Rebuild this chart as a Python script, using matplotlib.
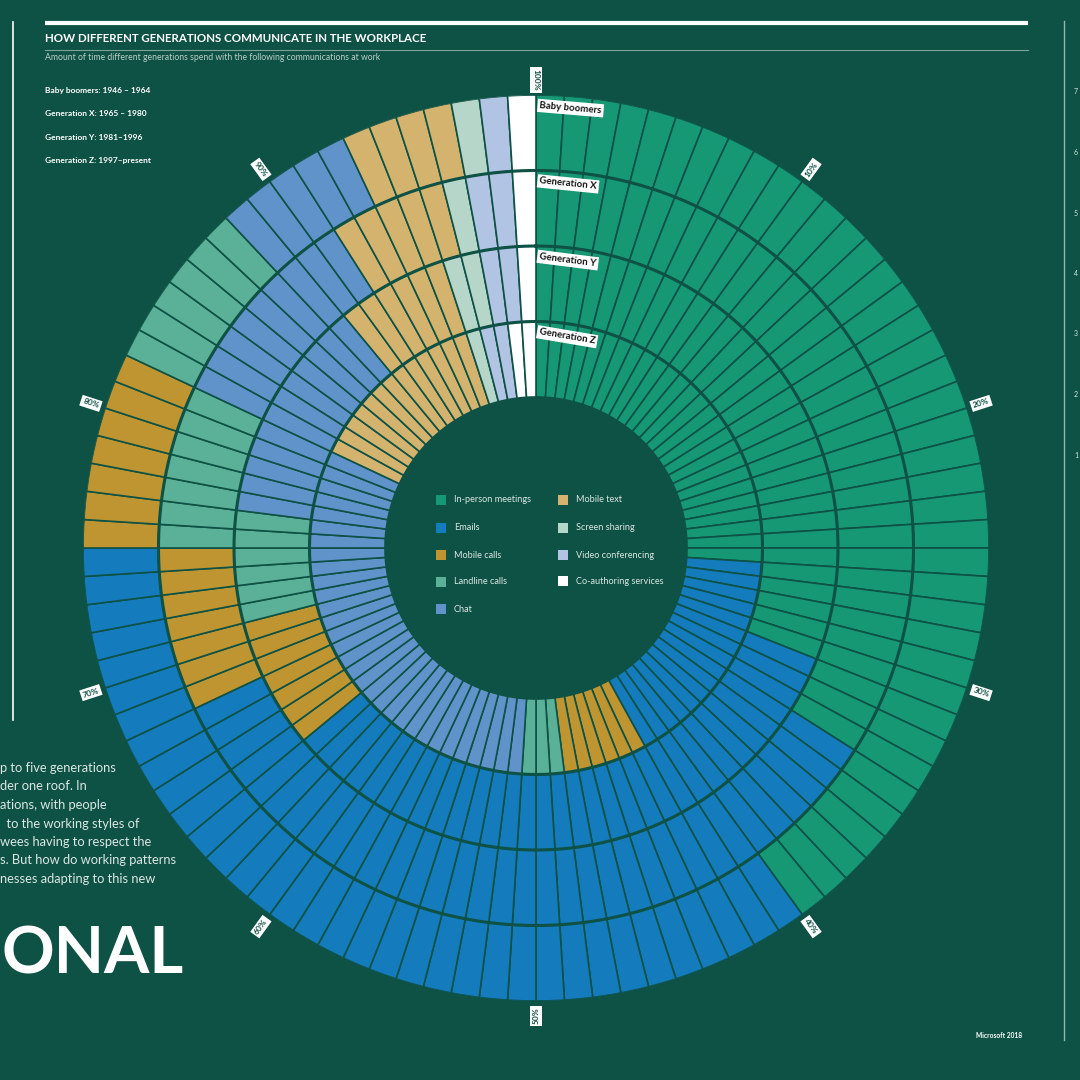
import numpy as np
import matplotlib.pyplot as plt
from matplotlib.patches import Rectangle

plt.rcParams['font.family'] = ['Lato', 'DejaVu Sans']

# share of communication time at work (%), clockwise from 12 o'clock
categories = ['In-person meetings', 'Emails', 'Mobile calls', 'Landline calls', 'Chat',
              'Mobile text', 'Screen sharing', 'Video conferencing', 'Co-authoring services']
colors = ['#169875', '#147bbd', '#be9530', '#5bb197', '#6193cb',
          '#d3b36e', '#b7d6ca', '#b2c4e3', '#ffffff']

generations = ['Baby boomers', 'Generation X', 'Generation Y', 'Generation Z']
baby_boomers = [40, 35, 7, 6, 5, 4, 1, 1, 1]
gen_x = [34, 34, 7, 7, 9, 5, 1, 2, 1]
gen_y = [31, 33, 7, 6, 12, 6, 2, 2, 1]
gen_z = [26, 16, 6, 3, 31, 13, 1, 2, 2]

birth_years = ['Baby boomers: 1946 – 1964', 'Generation X: 1965 – 1980',
               'Generation Y: 1981–1996', 'Generation Z: 1997–present']
pct_ticks = [10, 20, 30, 40, 50, 60, 70, 80, 90, 100]

intro_lines = ['p to five generations', 'der one roof. In', 'ations, with people',
               '  to the working styles of', 'wees having to respect the',
               's. But how do working patterns', 'nesses adapting to this new']
side_ticks = ['7', '6', '5', '4', '3', '2', '1']

BG = '#0e5145'
FG = '#dbe7e3'


def draw_page(page):
    # rules and header text around the chart
    page.plot([45, 1028], [23, 23], color='white', lw=3, solid_capstyle='butt')
    page.plot([45, 1028], [50, 50], color='#7fa398', lw=0.8)
    page.plot([13, 13], [22, 720], color='white', lw=1.2)
    page.plot([1064, 1064], [21, 1040], color='#9bb3ab', lw=1)

    page.text(45, 39, 'HOW DIFFERENT GENERATIONS COMMUNICATE IN THE WORKPLACE',
              fontsize=8.3, fontweight='bold', color='white', va='center')
    page.text(45, 58, 'Amount of time different generations spend with the following communications at work',
              fontsize=6.2, color='#b9cec7', va='center')
    for i, txt in enumerate(birth_years):
        page.text(45, 90 + i * 23.5, txt, fontsize=6.0, fontweight='bold', color='white', va='center')

    for i, txt in enumerate(intro_lines):
        page.text(0, 768 + i * 18.5, txt, fontsize=9.3, color=FG, va='center')
    page.text(1, 955, 'ONAL', fontsize=47, fontweight='bold', color='white', va='center', ha='left')

    for i, txt in enumerate(side_ticks):
        page.text(1074, 92 + i * 60.5, txt, fontsize=5, color=FG, va='center')
    page.text(1022, 1036, 'Microsoft 2018', fontsize=4.8, fontweight='bold', color='white',
              va='center', ha='right')

    # legend inside the hole
    left_rows = [500, 528, 555, 582, 609]
    right_rows = [500, 528, 555, 581]
    spots = [(441, y) for y in left_rows] + [(563, y) for y in right_rows]
    for (x, y), name, c in zip(spots, categories, colors):
        page.add_patch(Rectangle((x - 5, y - 5), 10, 10, color=c, ec='none'))
        page.text(x + 13, y, name, fontsize=6.6, color=FG, va='center')


def draw_rings(ax, rings, r_out, ring_w):
    step = 2 * np.pi / 100
    theta = (np.arange(100) + 0.5) * step
    for i, values in enumerate(rings):
        bottom = r_out - (i + 1) * ring_w
        seg_colors = np.repeat(colors, values)
        ax.bar(theta, ring_w, width=step, bottom=bottom, color=seg_colors,
               edgecolor=BG, linewidth=1.2)

    # thicker circles between generations
    t = np.linspace(0, 2 * np.pi, 500)
    for i in range(1, len(rings)):
        ax.plot(t, np.full_like(t, r_out - i * ring_w), color=BG, lw=2.2)

    # percentage markers around the outside
    for p in pct_ticks:
        deg = p * 3.6
        rot = 90 - deg if 0 < deg < 180 else 270 - deg
        ax.text(np.radians(deg), 468, f'{p}%', rotation=rot, rotation_mode='anchor',
                ha='center', va='center', fontsize=6, fontweight='bold', color=BG,
                bbox=dict(boxstyle='square,pad=0.25', fc='white', ec='none'), clip_on=False)

    # generation names at the start of each ring
    for i, name in enumerate(generations):
        r_top = r_out - i * ring_w
        ax.text(4 / r_top, r_top - 6, name, rotation=-np.degrees(38 / r_top),
                rotation_mode='anchor', ha='left', va='top', fontsize=6.9,
                fontweight='bold', color='#111111',
                bbox=dict(boxstyle='square,pad=0.22', fc='white', ec='none'))


def main():
    fig = plt.figure(figsize=(10.8, 10.8), dpi=100, facecolor=BG)
    page = fig.add_axes([0, 0, 1, 1])
    page.set_xlim(0, 1080)
    page.set_ylim(1080, 0)
    page.axis('off')
    draw_page(page)

    cx, cy, r_out = 536, 548, 453
    ring_w = 75.5
    ax = fig.add_axes([(cx - r_out) / 1080, (1080 - cy - r_out) / 1080,
                       2 * r_out / 1080, 2 * r_out / 1080], projection='polar')
    ax.set_theta_zero_location('N')
    ax.set_theta_direction(-1)
    ax.set_ylim(0, r_out)
    ax.axis('off')
    draw_rings(ax, [baby_boomers, gen_x, gen_y, gen_z], r_out, ring_w)

    fig.savefig('out.png', dpi=100, facecolor=BG)


if __name__ == '__main__':
    main()
